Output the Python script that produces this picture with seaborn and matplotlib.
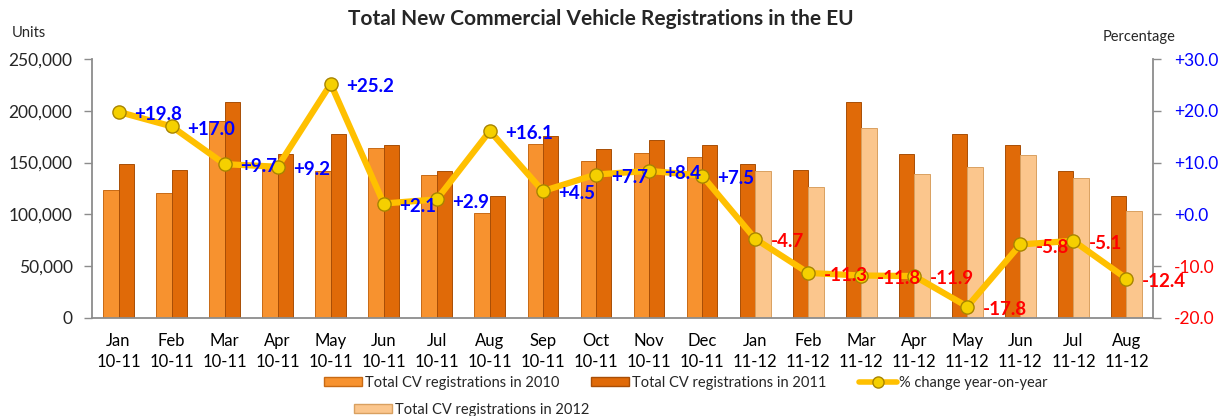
import numpy as np
import pandas as pd
import matplotlib
matplotlib.use("Agg")
import matplotlib.pyplot as plt
import seaborn as sns
from matplotlib.patches import Patch
from matplotlib.lines import Line2D
from matplotlib.ticker import FuncFormatter

# ---------------- data ----------------
months = ["Jan", "Feb", "Mar", "Apr", "May", "Jun", "Jul", "Aug", "Sep", "Oct",
          "Nov", "Dec", "Jan", "Feb", "Mar", "Apr", "May", "Jun", "Jul", "Aug"]
periods = ["10-11"] * 12 + ["11-12"] * 8
reg_2010 = [124000, 121000, 190500, 145000, 142000, 163800, 138500, 101200,
            167700, 151200, 159000, 155000]
reg_2011 = [148800, 142400, 208500, 158400, 177700, 167200, 142200, 117800,
            175400, 163200, 171900, 166800]
reg_2012 = [141500, 126200, 183800, 139000, 146000, 157500, 135200, 102800]
pct_change = [19.8, 17.0, 9.7, 9.2, 25.2, 2.1, 2.9, 16.1, 4.5, 7.7, 8.4, 7.5,
              -4.7, -11.3, -11.8, -11.9, -17.8, -5.8, -5.1, -12.4]
left_ticks = [0, 50000, 100000, 150000, 200000, 250000]
right_ticks = [-20, -10, 0, 10, 20, 30]
series_names = {"2010": "Total CV registrations in 2010",
                "2011": "Total CV registrations in 2011",
                "2012": "Total CV registrations in 2012"}
line_name = "% change year-on-year"
title = "Total New Commercial Vehicle Registrations in the EU"

# ---------------- styles ----------------
col = {"2010": "#F7922F", "2011": "#E06A08", "2012": "#FBC68D"}
edge = {"2010": "#C86A14", "2011": "#A84E06", "2012": "#D9A060"}
line_col = "#FFC000"
pos_col = "#0000FF"
neg_col = "#FF0000"
axis_col = "#8C8C8C"

sns.set_theme(style="white")
plt.rcParams["font.family"] = ["Lato", "DejaVu Sans"]

labels = [f"{m}\n{p}" for m, p in zip(months, periods)]

rows = []
for i, lab in enumerate(labels):
    if i < 12:
        rows.append((lab, "left", "2010", reg_2010[i]))
        rows.append((lab, "right", "2011", reg_2011[i]))
    else:
        rows.append((lab, "left", "2011", reg_2011[i - 12]))
        rows.append((lab, "right", "2012", reg_2012[i - 12]))
df = pd.DataFrame(rows, columns=["label", "slot", "year", "value"])

fig = plt.figure(figsize=(12.31, 4.16), dpi=100)
ax = fig.add_axes([92 / 1231, 1 - 318 / 416, (1153 - 92) / 1231, (318 - 59) / 416])

sns.barplot(data=df, x="label", y="value", hue="slot", hue_order=["left", "right"],
            order=labels, width=0.58, gap=0, saturation=1, legend=False, ax=ax)

for container, slot in zip(ax.containers, ["left", "right"]):
    years = df[df.slot == slot].set_index("label").loc[labels, "year"].tolist()
    for bar, yr in zip(container, years):
        bar.set_facecolor(col[yr])
        bar.set_edgecolor(edge[yr])
        bar.set_linewidth(0.7)

ax.set_ylim(0, 250000)
ax.set_xlim(-0.5, len(labels) - 0.5)
ax.set_yticks(left_ticks)
ax.yaxis.set_major_formatter(FuncFormatter(lambda v, p: f"{v:,.0f}"))
ax.set_xlabel("")
ax.set_ylabel("")
ax.set_xticks(range(len(labels)))
ax.set_xticklabels(labels, fontsize=12, linespacing=1.35)
ax.set_xticks(np.arange(-0.5, len(labels), 1.0), minor=True)
ax.tick_params(axis="x", which="major", length=0, pad=11, colors="black")
ax.tick_params(axis="x", which="minor", length=6, width=1, color=axis_col, direction="out")
ax.tick_params(axis="y", which="major", length=6, width=1, color=axis_col,
               direction="out", labelsize=12.5, pad=8, left=True)
for s in ["top", "right"]:
    ax.spines[s].set_visible(False)
for s in ["left", "bottom"]:
    ax.spines[s].set_color(axis_col)
    ax.spines[s].set_linewidth(1.3)

# ---------------- line on secondary axis ----------------
ax2 = ax.twinx()
sns.pointplot(x=labels, y=pct_change, order=labels, ax=ax2, color=line_col,
              markers="o", linewidth=4.5, markersize=9.5,
              markerfacecolor="#F5D000", markeredgecolor="#A88400",
              markeredgewidth=1.0, errorbar=None)
ax2.set_ylim(-20, 30)
ax2.set_xlim(-0.5, len(labels) - 0.5)
ax2.set_yticks(right_ticks)
ax2.set_yticklabels([f"{v:+.1f}" for v in right_ticks], fontsize=12.5)
for lbl, v in zip(ax2.get_yticklabels(), right_ticks):
    lbl.set_color(pos_col if v >= 0 else neg_col)
ax2.tick_params(axis="y", length=6, width=1, color=axis_col, direction="out", pad=9, right=True)
ax2.set_ylabel("")
for s in ["top", "left", "bottom"]:
    ax2.spines[s].set_visible(False)
ax2.spines["right"].set_color(axis_col)
ax2.spines["right"].set_linewidth(1.3)
ax2.grid(False)
ax.grid(False)

for i, v in enumerate(pct_change):
    ax2.annotate(f"{v:+.1f}", xy=(i, v), xytext=(11, -2), textcoords="offset points",
                 ha="left", va="center", fontsize=13.5, fontweight="bold",
                 color=pos_col if v >= 0 else neg_col, zorder=10)

# ---------------- texts ----------------
fig.text(601 / 1231, 1 - 19 / 416, title, ha="center", va="center",
         fontsize=15, fontweight="bold")
fig.text(12 / 1231, 1 - 33 / 416, "Units", ha="left", va="center", fontsize=10.5)
fig.text(1103 / 1231, 1 - 37 / 416, "Percentage", ha="left", va="center", fontsize=10.5)

# ---------------- legends ----------------
h2010 = Patch(facecolor=col["2010"], edgecolor=edge["2010"])
h2011 = Patch(facecolor=col["2011"], edgecolor=edge["2011"])
h2012 = Patch(facecolor=col["2012"], edgecolor=edge["2012"])
hline = Line2D([], [], color=line_col, lw=4, marker="o", markersize=8,
               markerfacecolor="#F5D000", markeredgecolor="#A88400")
leg1 = fig.legend([h2010, h2011, hline],
                  [series_names["2010"], series_names["2011"], line_name],
                  loc="center", bbox_to_anchor=(686 / 1231, 1 - 383 / 416),
                  ncol=3, frameon=False, fontsize=10.5, handlelength=2.6,
                  handleheight=0.55, handletextpad=0.2, columnspacing=2.2,
                  borderpad=0)
leg2 = fig.legend([h2012], [series_names["2012"]],
                  loc="center", bbox_to_anchor=(472 / 1231, 1 - 410 / 416),
                  frameon=False, fontsize=10.5, handlelength=2.6,
                  handleheight=0.55, handletextpad=0.2, borderpad=0)

fig.savefig("out.png", dpi=100)
